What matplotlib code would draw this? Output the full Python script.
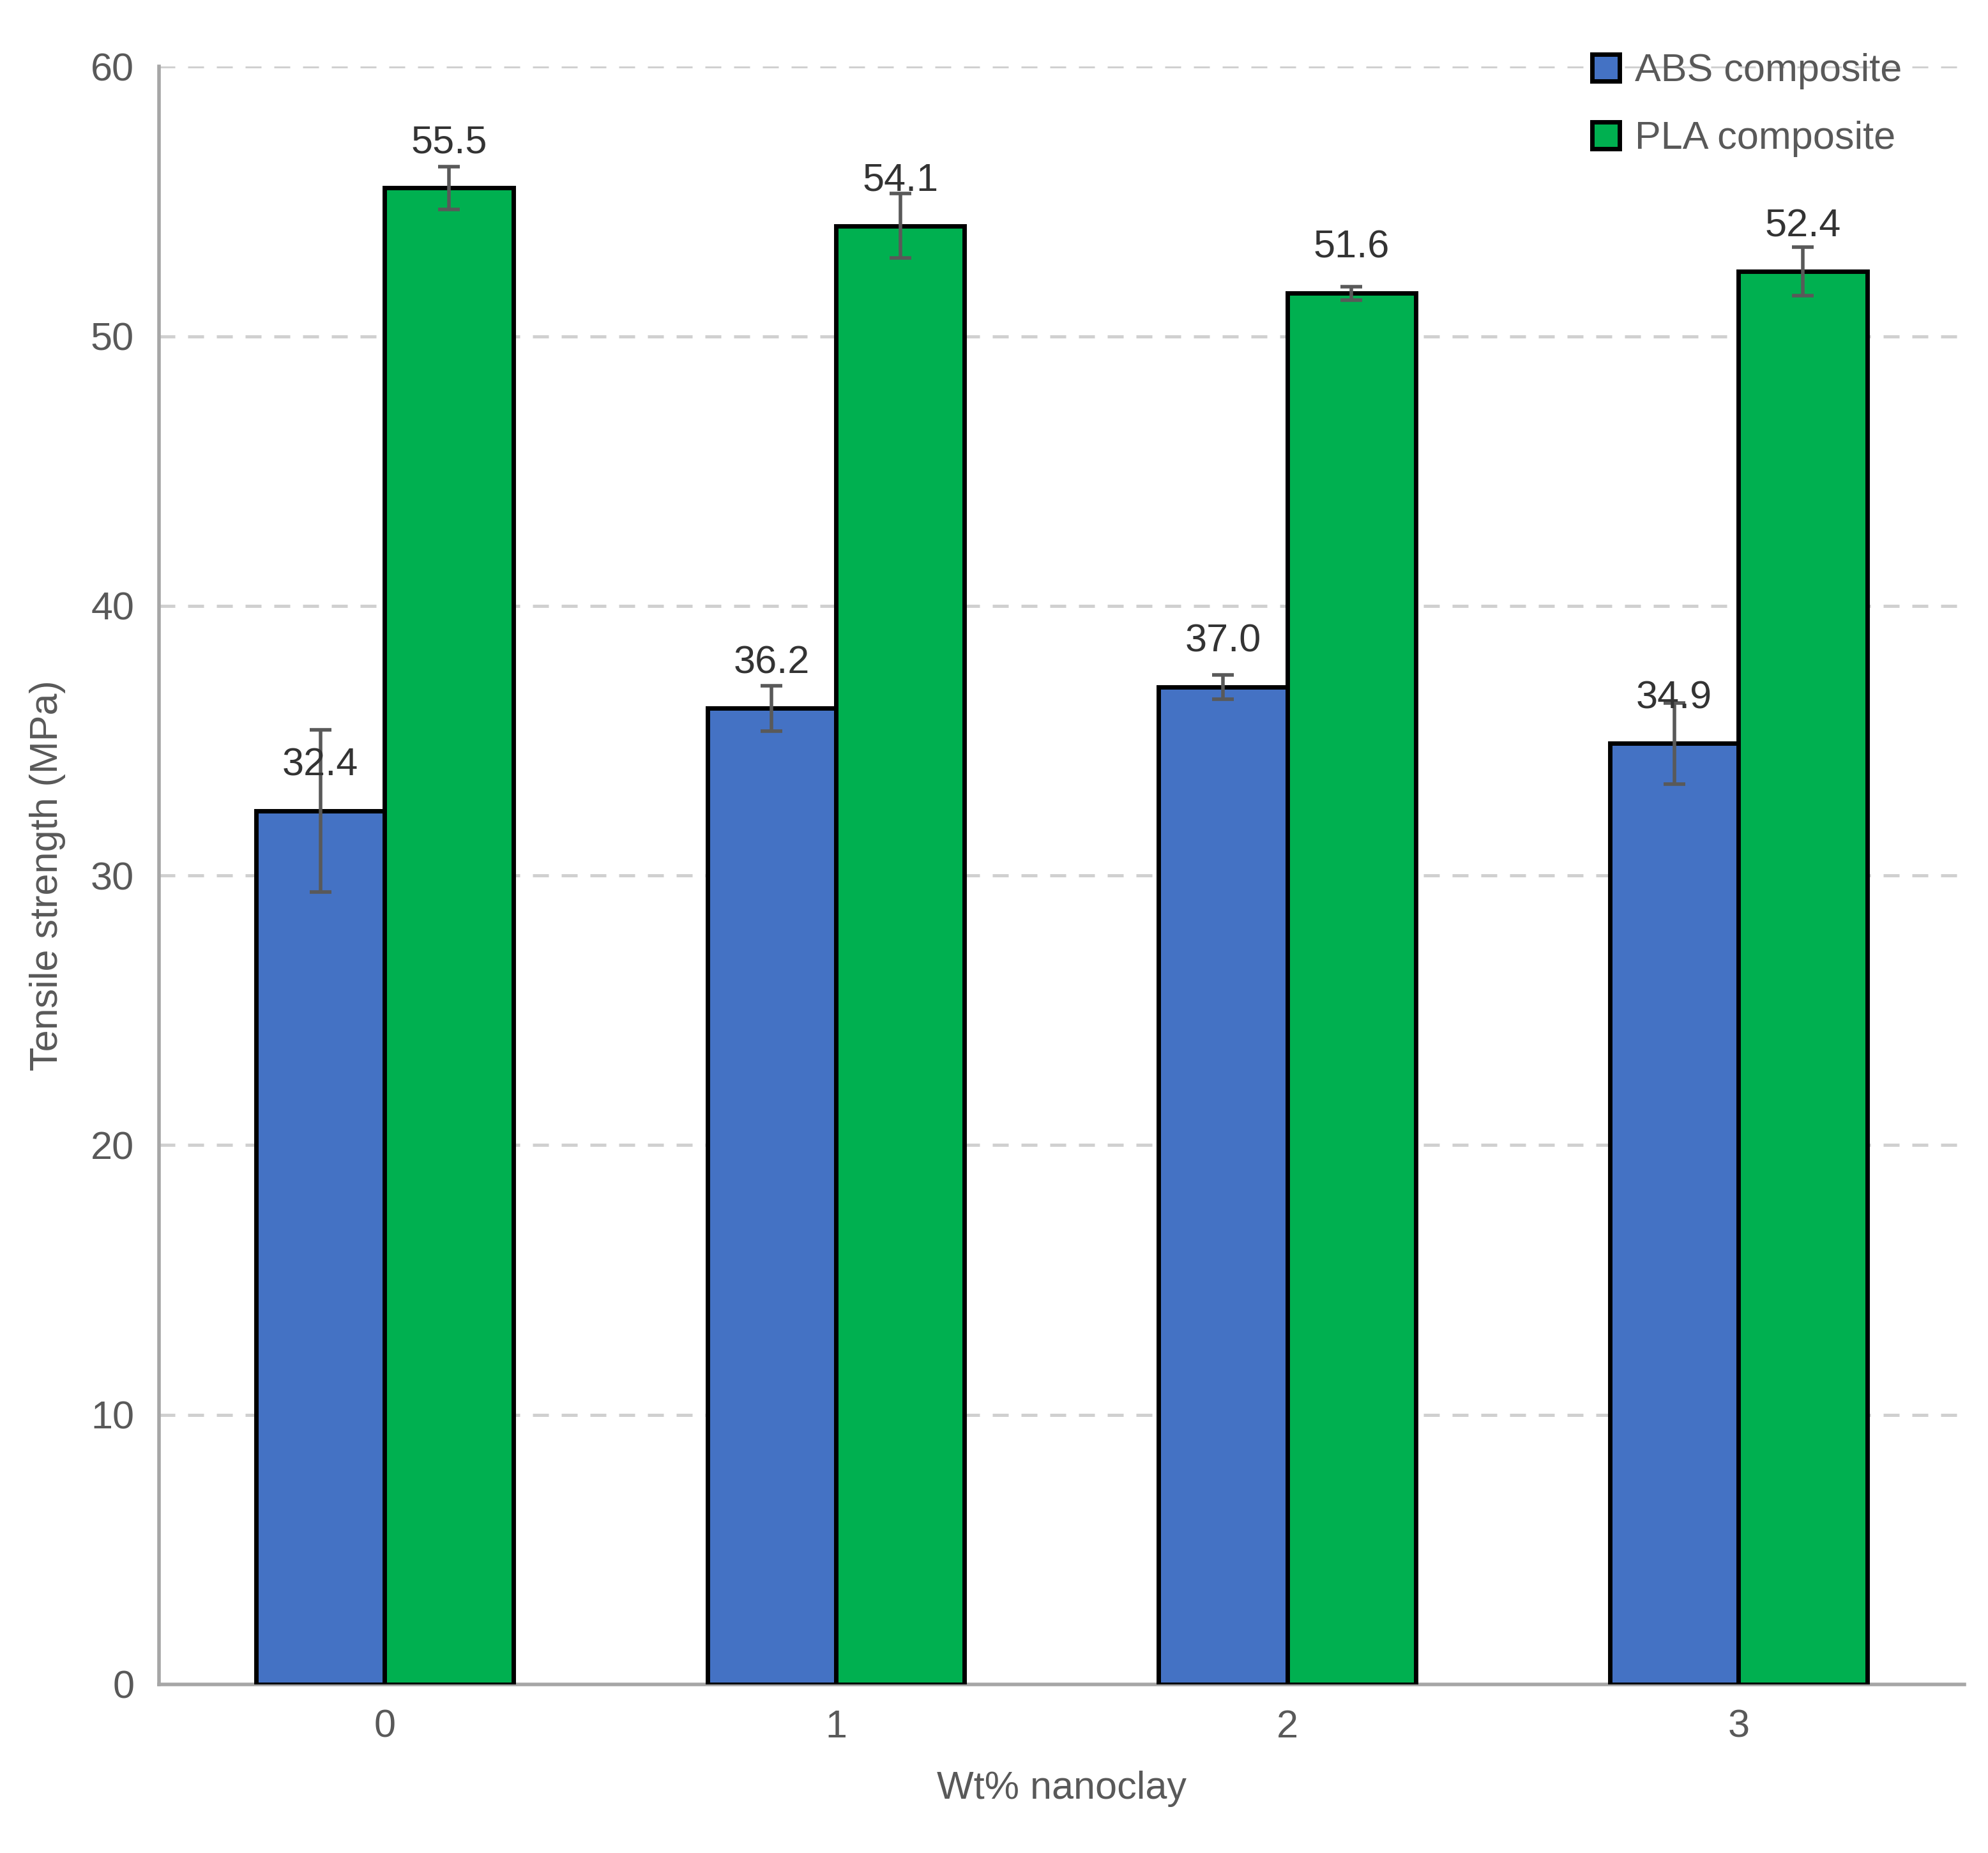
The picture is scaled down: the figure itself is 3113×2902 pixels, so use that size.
import matplotlib
matplotlib.use("Agg")
import matplotlib.pyplot as plt
import numpy as np

categories = ["0", "1", "2", "3"]
abs_vals = [32.4, 36.2, 37.0, 34.9]
abs_err = [3.0, 0.85, 0.45, 1.5]
pla_vals = [55.5, 54.1, 51.6, 52.4]
pla_err = [0.8, 1.2, 0.25, 0.9]

plt.rcParams["font.family"] = ["Liberation Sans Narrow", "Liberation Sans", "DejaVu Sans"]
GRAY = "#595959"

fig = plt.figure(figsize=(15.565, 14.51), dpi=200)
ax = fig.add_axes([0.08, 0.091, 0.908, 0.873])
x = np.arange(len(categories))
w = 0.285
ekw = dict(ecolor=GRAY, elinewidth=2, capsize=6, capthick=2)
b1 = ax.bar(x - w / 2, abs_vals, w, color="#4472C4", edgecolor="black", lw=2.5,
            yerr=abs_err, error_kw=ekw, label="ABS composite", zorder=3)
b2 = ax.bar(x + w / 2, pla_vals, w, color="#00B050", edgecolor="black", lw=2.5,
            yerr=pla_err, error_kw=ekw, label="PLA composite", zorder=3)
for bars, vals in ((b1, abs_vals), (b2, pla_vals)):
    for r, v in zip(bars, vals):
        ax.text(r.get_x() + r.get_width() / 2, v + 1.0, f"{v:.1f}", ha="center",
                va="bottom", fontsize=22, color="#333333", zorder=4)

ax.set_xlim(-0.5, 3.5)
ax.set_ylim(0, 60)
ax.set_yticks(range(0, 61, 10))
ax.set_xticks(x)
ax.set_xticklabels(categories)
ax.tick_params(axis="both", labelsize=22, colors=GRAY, length=0, pad=14)
ax.yaxis.grid(True, ls=(0, (5, 4)), color="#D0D0D0", lw=1.8, zorder=0)
for sp in ("top", "right"):
    ax.spines[sp].set_visible(False)
for sp in ("left", "bottom"):
    ax.spines[sp].set_color("#A6A6A6")
    ax.spines[sp].set_linewidth(2)
ax.set_xlabel("Wt% nanoclay", fontsize=22, color=GRAY, labelpad=14)
ax.set_ylabel("Tensile strength (MPa)", fontsize=22, color=GRAY, labelpad=14)
leg = ax.legend(loc="upper right", bbox_to_anchor=(0.985, 1.03), frameon=False,
                fontsize=22, handlelength=0.7, handleheight=0.7, labelspacing=0.8,
                handletextpad=0.4)
for t in leg.get_texts():
    t.set_color(GRAY)
fig.savefig("out.png", dpi=200)
